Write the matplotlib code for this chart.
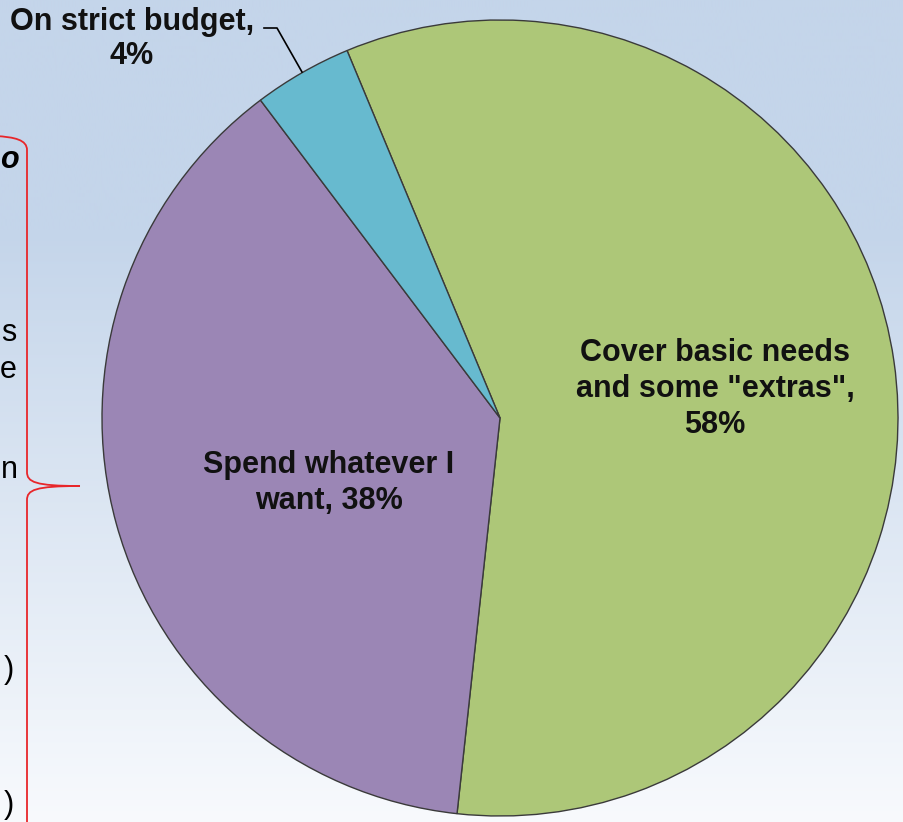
import numpy as np
import matplotlib
matplotlib.use("Agg")
import matplotlib.pyplot as plt
from matplotlib.path import Path
from matplotlib.patches import PathPatch

# data
labels = ['Cover basic needs\nand some "extras",\n58%',
          'Spend whatever I\nwant, 38%',
          'On strict budget,\n4%']
shares = [58, 38, 4]
colors = ['#ADC778', '#9B86B5', '#67BACF']

W, H = 904, 822
fig = plt.figure(figsize=(W / 100, H / 100), dpi=100)
ax = fig.add_axes([0, 0, 1, 1])

# slide background: flat light blue on top, fading to near white at bottom
rows = np.arange(H)
top = np.array([196, 213, 234]) / 255
bot = np.array([248, 250, 253]) / 255
t = np.clip((rows - 230) / (H - 230), 0, 1)[:, None]
grad = top * (1 - t) + bot * t
img = np.repeat(grad[:, None, :], 4, axis=1)
ax.imshow(img, extent=(0, W, 0, H), origin='upper', aspect='auto', zorder=0,
          interpolation='bilinear')

cx, cy, r = 500, 418, 398
wedges, _ = ax.pie(shares, colors=colors, startangle=112.6, counterclock=False,
                   center=(cx, H - cy), radius=r,
                   wedgeprops=dict(edgecolor='#3a3a3a', linewidth=1.0))
ax.set_xlim(0, W)
ax.set_ylim(0, H)
ax.set_aspect('auto')
ax.axis('off')

font = dict(family='Liberation Sans', fontweight='bold', fontsize=22,
            ha='center', va='center', color='#111111')
ax.text(715, H - 389, labels[0], linespacing=1.27, **font)
ax.text(329, H - 483, labels[1], linespacing=1.27, **font)
ax.text(132, H - 39, labels[2], linespacing=1.15, **font)

# leader line for the small slice
ax.plot([264, 277, 302], [H - 28, H - 28, H - 72], color='black', lw=1.2)

# red brace on the left edge of the slide
verts = [(-5, 136), (15, 137), (27, 140), (27, 150),
         (27, 472),
         (27, 482), (35, 486), (80, 486),
         (35, 486), (27, 490), (27, 500),
         (27, 830)]
codes = [Path.MOVETO, Path.CURVE4, Path.CURVE4, Path.CURVE4,
         Path.LINETO,
         Path.CURVE4, Path.CURVE4, Path.CURVE4,
         Path.CURVE4, Path.CURVE4, Path.CURVE4,
         Path.LINETO]
verts = [(x, H - y) for x, y in verts]
ax.add_patch(PathPatch(Path(verts, codes), fill=False, edgecolor='#E8262A', lw=1.3))

# slide text cut off at the left edge
side = dict(family='Liberation Sans', fontsize=22, va='center', ha='right', color='black')
ax.text(19, H - 160, 'o', fontweight='bold', style='italic', **side)
ax.text(16, H - 333, 's', **side)
ax.text(17, H - 370, 'e', **side)
ax.text(18, H - 470, 'n', **side)
ax.text(14, H - 670, ')', **side)
ax.text(14, H - 805, ')', **side)

fig.savefig('out.png', dpi=100)
